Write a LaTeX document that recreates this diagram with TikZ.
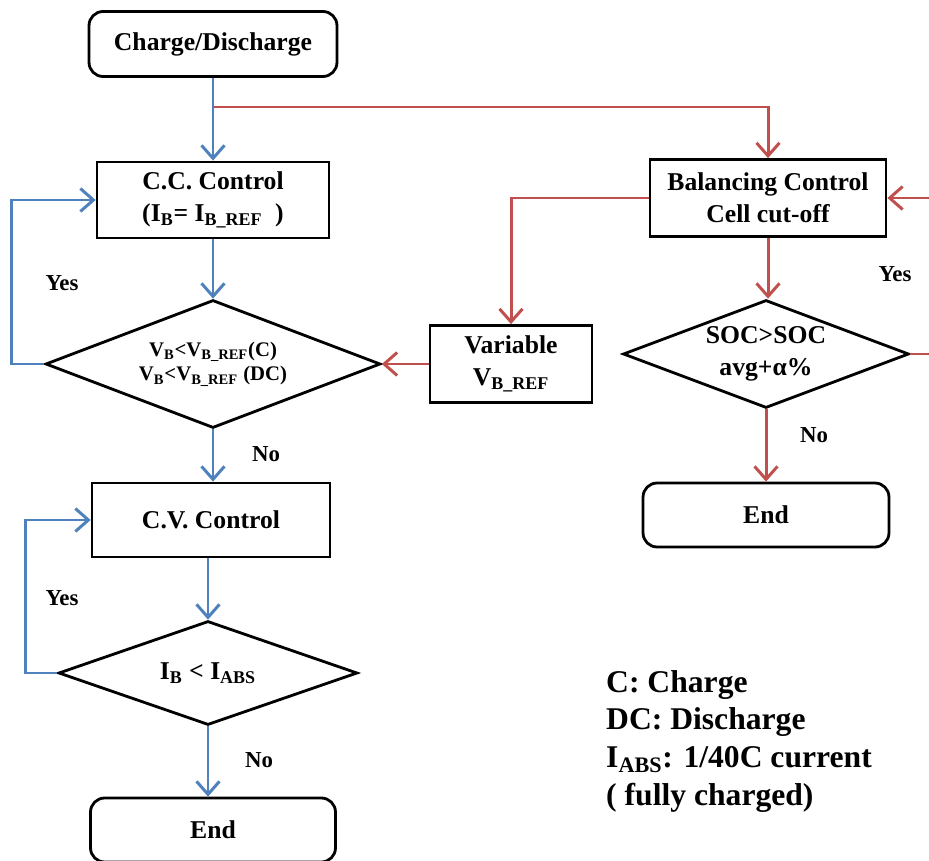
\documentclass[tikz,border=0pt]{standalone}
\usepackage{fontspec}
\setmainfont{Liberation Serif}
\usetikzlibrary{arrows.meta,shapes.geometric}
\definecolor{flowblue}{RGB}{79,129,189}
\definecolor{flowred}{RGB}{192,80,77}

\begin{document}
\begin{tikzpicture}[
x=0.02cm, y=-0.02cm,
box/.style={rectangle, draw, line width=1.6pt, align=center, font=\fontsize{14.6}{18}\selectfont\bfseries, inner sep=2pt},
term/.style={box, rounded corners=8pt},
test/.style={diamond, draw, line width=1.6pt, align=center, inner sep=0pt, aspect=2.6, font=\fontsize{14.6}{18}\selectfont\bfseries},
note/.style={font=\fontsize{13}{15}\selectfont\bfseries},
blueflow/.style={-{Straight Barb[length=2.6mm,width=4.6mm]}, line width=1.7pt, draw=flowblue},
redflow/.style={-{Straight Barb[length=2.6mm,width=4.6mm]}, line width=1.7pt, draw=flowred}
]
\useasboundingbox (0,0) rectangle (929,861);
\node[term, minimum width=4.96cm, minimum height=1.3cm] (start) at (213,44) {Charge/Discharge};
\node[box, minimum width=4.64cm, minimum height=1.52cm] (cc) at (213,200) {C.C. Control\\(I\textsubscript{B}= I\textsubscript{B\_REF}\ \ )};
\node[test, minimum width=6.7cm, minimum height=2.56cm, font=\fontsize{11.8}{14}\selectfont\bfseries] (chk1) at (213,364) {V\textsubscript{B}<V\textsubscript{B\_REF}(C)\\V\textsubscript{B}<V\textsubscript{B\_REF} (DC)};
\node[box, minimum width=3.24cm, minimum height=1.54cm] (var) at (511,364) {Variable\\V\textsubscript{B\_REF}};
\node[box, minimum width=4.72cm, minimum height=1.54cm] (bal) at (768,198) {Balancing Control\\Cell cut-off};
\node[test, minimum width=5.72cm, minimum height=2.16cm, aspect=2.65] (soc) at (766,354) {SOC>SOC\\avg+α\%};
\node[term, minimum width=4.92cm, minimum height=1.28cm] (endB) at (766,515) {End};
\node[box, minimum width=4.76cm, minimum height=1.48cm] (cv) at (211,520) {C.V. Control};
\node[test, minimum width=5.98cm, minimum height=2.08cm, aspect=2.9] (chk2) at (208,673) {I\textsubscript{B} < I\textsubscript{ABS}};
\node[term, minimum width=4.9cm, minimum height=1.28cm] (endA) at (213,830) {End};
\node[anchor=north west, align=left, font=\fontsize{18}{21.5}\selectfont\bfseries] (legend) at (600,664) {C: Charge\\DC: Discharge\\I\textsubscript{ABS}: 1/40C current\\( fully charged)};
\coordinate (split) at (213,107);
% blue path (pack control)
\draw[blueflow] (start) -- (cc);
\draw[blueflow] (cc) -- (chk1);
\draw[blueflow] (chk1.west) -- ++(-33,0) |- (cc.west);
\draw[blueflow] (chk1) -- (cv.north -| chk1.south);
\draw[blueflow] (cv.south -| chk2.north) -- (chk2);
\draw[blueflow] (chk2.west) -- ++(-32,0) |- (cv.west);
\draw[blueflow] (chk2) -- (endA.north -| chk2.south);
% red path (balancing)
\draw[redflow] (split) -| (bal.north);
\draw[redflow] (bal.west) -| (var.north);
\draw[redflow] (var) -- (chk1);
\draw[redflow] (bal.south) -- (soc.north -| bal.south);
\draw[redflow] (soc.east) -- ++(40,0) |- (bal.east);
\draw[redflow] (soc) -- (endB);
% branch labels
\node[note] (yes1) at (62,283) {Yes};
\node[note] (no1) at (266,454) {No};
\node[note] (yes2) at (895,274) {Yes};
\node[note] (no2) at (814,435) {No};
\node[note] (yes3) at (62,598) {Yes};
\node[note] (no3) at (259,760) {No};
\end{tikzpicture}
\end{document}
